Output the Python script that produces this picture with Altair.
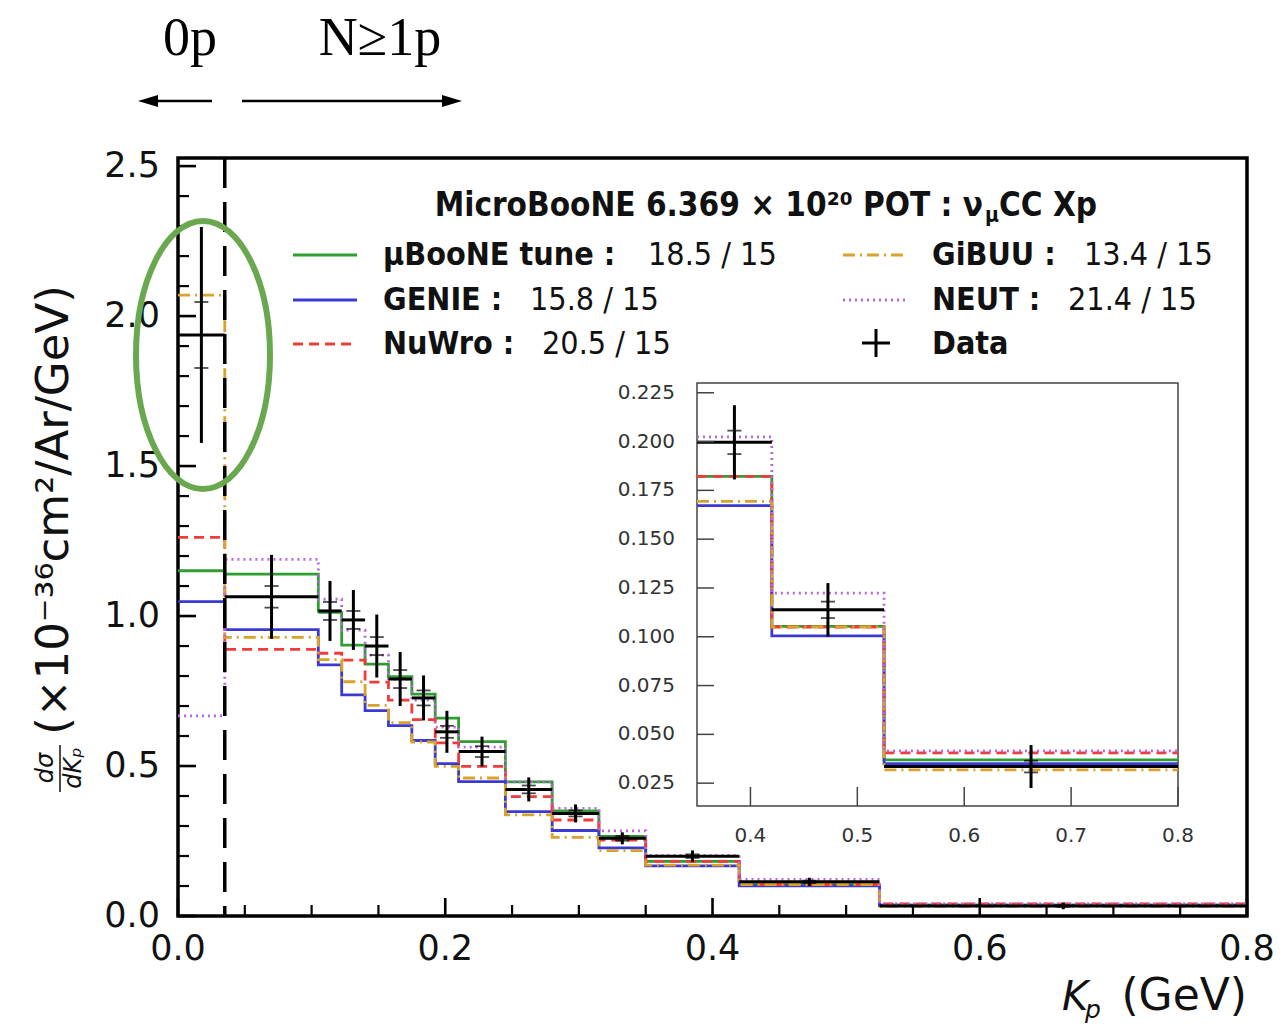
import altair as alt
import pandas as pd

# ---------------- data ----------------
edges = [0.0, 0.035, 0.105, 0.1225, 0.14, 0.1575, 0.175, 0.1925, 0.21,
         0.245, 0.28, 0.315, 0.35, 0.42, 0.525, 0.8]
models = ["µBooNE tune", "GENIE", "NuWro", "GiBUU", "NEUT"]
uboone = [1.151, 1.140, 1.012, 0.903, 0.840, 0.798, 0.740, 0.660, 0.581, 0.447, 0.350, 0.265, 0.1822, 0.1053, 0.0369]
genie = [1.048, 0.955, 0.837, 0.737, 0.685, 0.635, 0.585, 0.508, 0.448, 0.348, 0.285, 0.227, 0.1672, 0.1005, 0.0350]
nuwro = [1.262, 0.889, 0.876, 0.853, 0.780, 0.720, 0.655, 0.577, 0.499, 0.398, 0.320, 0.253, 0.1822, 0.1050, 0.0405]
gibuu = [2.070, 0.929, 0.855, 0.781, 0.702, 0.645, 0.580, 0.499, 0.460, 0.337, 0.262, 0.218, 0.1694, 0.1050, 0.0318]
neut = [0.667, 1.189, 1.056, 0.953, 0.870, 0.790, 0.720, 0.630, 0.563, 0.447, 0.359, 0.284, 0.2024, 0.1224, 0.0415]
series = [uboone, genie, nuwro, gibuu, neut]

data_val = [1.937, 1.064, 1.017, 0.987, 0.900, 0.790, 0.727, 0.614, 0.548, 0.422, 0.342, 0.259, 0.1996, 0.1138, 0.0335]
data_err = [0.360, 0.140, 0.100, 0.100, 0.105, 0.090, 0.075, 0.070, 0.050, 0.040, 0.030, 0.020, 0.0190, 0.0137, 0.0110]
data_stat = [0.110, 0.036, 0.030, 0.030, 0.030, 0.030, 0.025, 0.020, 0.018, 0.013, 0.010, 0.008, 0.0060, 0.0042, 0.0030]

chi2 = ["18.5 / 15", "15.8 / 15", "20.5 / 15", "13.4 / 15", "21.4 / 15"]
legend_labels = ["µBooNE tune :", "GENIE :", "NuWro :", "GiBUU :", "NEUT :"]

main_xticks = [0.0, 0.2, 0.4, 0.6, 0.8]
main_xminor = [0.05, 0.1, 0.15, 0.25, 0.3, 0.35, 0.45, 0.5, 0.55, 0.65, 0.7, 0.75]
main_yticks = [0.0, 0.5, 1.0, 1.5, 2.0, 2.5]
main_yminor = [0.1, 0.2, 0.3, 0.4, 0.6, 0.7, 0.8, 0.9, 1.1, 1.2, 1.3, 1.4,
               1.6, 1.7, 1.8, 1.9, 2.1, 2.2, 2.3, 2.4]
inset_xticks = [0.4, 0.5, 0.6, 0.7, 0.8]
inset_yticks = [0.025, 0.05, 0.075, 0.1, 0.125, 0.15, 0.175, 0.2, 0.225]

colors = ["#2e9e33", "#3a3ad2", "#f23a3a", "#d9a22c", "#b868dc"]
dashes = [[1, 0], [1, 0], [10, 6], [12, 5, 2, 5], [2, 4]]

# ---------------- layout ----------------
W, H = 1069, 758
PADL, PADT = 178, 158
PADR, PADB = 1281 - PADL - W, 1025 - PADT - H
FONT = "DejaVu Sans"
LFONT = "DejaVu Sans Condensed, DejaVu Sans"
SERIF = "Liberation Serif"

MX = alt.Scale(domain=[0.0, 0.8], nice=False, zero=False)
MY = alt.Scale(domain=[0.0, 2.527], nice=False, zero=False)
IX = alt.Scale(domain=[0.35, 0.8], range=[519, 1000], nice=False, zero=False)
IY = alt.Scale(domain=[0.0133, 0.2300], range=[648, 225], nice=False, zero=False)
CS = alt.Scale(domain=models, range=colors)
DS = alt.Scale(domain=models, range=dashes)

# ---------------- tables ----------------
rows = []
for m, vals in zip(models, series):
    for i, v in enumerate(vals):
        rows.append({"model": m, "x": edges[i], "y": v, "k": i})
    rows.append({"model": m, "x": edges[-1], "y": vals[-1], "k": len(vals)})
steps = pd.DataFrame(rows)
steps_in = steps[steps["x"] >= 0.35]

dd = pd.DataFrame({"lo": edges[:-1], "hi": edges[1:], "val": data_val,
                   "err": data_err, "stat": data_stat})
dd["c"] = (dd["lo"] + dd["hi"]) / 2
dd["elo"] = dd["val"] - dd["err"]
dd["ehi"] = dd["val"] + dd["err"]
stat_df = pd.DataFrame({"c": list(dd["c"]) * 2,
                        "s": list(dd["val"] - dd["stat"]) + list(dd["val"] + dd["stat"])})
dd_in = dd[dd["lo"] >= 0.35]
stat_in = stat_df[stat_df["c"] >= 0.35]
one = pd.DataFrame({"a": [0]})


def X(f, s):
    return alt.X(f, type="quantitative", scale=s, axis=None)


def Y(f, s):
    return alt.Y(f, type="quantitative", scale=s, axis=None)


# ---------------- main panel ----------------
step_main = alt.Chart(steps).mark_line(interpolate="step-after", strokeWidth=2.8, clip=True).encode(
    x=X("x", MX), y=Y("y", MY),
    color=alt.Color("model:N", scale=CS, legend=None),
    strokeDash=alt.StrokeDash("model:N", scale=DS, legend=None),
    order="k:Q")

vline = alt.Chart(pd.DataFrame({"x": [edges[1]]})).mark_rule(
    color="black", strokeWidth=3.5, strokeDash=[30, 14]).encode(
    x=X("x", MX), y=alt.value(0), y2=alt.value(H))

cross = alt.Chart(dd).mark_rule(color="black", strokeWidth=3).encode(
    x=X("lo", MX), x2="hi:Q", y=Y("val", MY))
ebar = alt.Chart(dd).mark_rule(color="black", strokeWidth=3).encode(
    x=X("c", MX), y=Y("elo", MY), y2="ehi:Q")
sticks = alt.Chart(stat_df).mark_tick(orient="horizontal", color="black", size=14, thickness=1.8).encode(
    x=X("c", MX), y=Y("s", MY))

ymaj = alt.Chart(pd.DataFrame({"v": main_yticks})).mark_rule(color="black", strokeWidth=2.6).encode(
    y=Y("v", MY), x=alt.value(0), x2=alt.value(18))
ymin = alt.Chart(pd.DataFrame({"v": main_yminor})).mark_rule(color="black", strokeWidth=2.2).encode(
    y=Y("v", MY), x=alt.value(0), x2=alt.value(11))
xmaj = alt.Chart(pd.DataFrame({"v": main_xticks})).mark_rule(color="black", strokeWidth=2.6).encode(
    x=X("v", MX), y=alt.value(H), y2=alt.value(H - 18))
xmin = alt.Chart(pd.DataFrame({"v": main_xminor})).mark_rule(color="black", strokeWidth=2.2).encode(
    x=X("v", MX), y=alt.value(H), y2=alt.value(H - 11))
xlab = alt.Chart(pd.DataFrame({"v": main_xticks})).mark_text(
    align="center", baseline="middle", font=FONT, fontSize=35, color="#111").encode(
    x=X("v", MX), y=alt.value(H + 33), text=alt.Text("v:Q", format=".1f"))
ylab = alt.Chart(pd.DataFrame({"v": main_yticks})).mark_text(
    align="right", baseline="middle", font=FONT, fontSize=35, color="#111").encode(
    y=Y("v", MY), x=alt.value(-18), text=alt.Text("v:Q", format=".1f"))

main = alt.layer(step_main, vline, cross, ebar, sticks, ymaj, ymin, xmaj, xmin, xlab, ylab)

# ---------------- inset ----------------
ibg = alt.Chart(one).mark_rect(fill="white", stroke="#444", strokeWidth=1.5).encode(
    x=alt.value(519), x2=alt.value(1000), y=alt.value(225), y2=alt.value(648))
istep = alt.Chart(steps_in).mark_line(interpolate="step-after", strokeWidth=2.8).encode(
    x=X("x", IX), y=Y("y", IY),
    color=alt.Color("model:N", scale=CS, legend=None),
    strokeDash=alt.StrokeDash("model:N", scale=DS, legend=None),
    order="k:Q")
icross = alt.Chart(dd_in).mark_rule(color="black", strokeWidth=3).encode(
    x=X("lo", IX), x2="hi:Q", y=Y("val", IY))
iebar = alt.Chart(dd_in).mark_rule(color="black", strokeWidth=3).encode(
    x=X("c", IX), y=Y("elo", IY), y2="ehi:Q")
isticks = alt.Chart(stat_in).mark_tick(orient="horizontal", color="black", size=14, thickness=1.8).encode(
    x=X("c", IX), y=Y("s", IY))
iyt = alt.Chart(pd.DataFrame({"v": inset_yticks})).mark_rule(color="#444", strokeWidth=1.5).encode(
    y=Y("v", IY), x=alt.value(519), x2=alt.value(536))
ixt = alt.Chart(pd.DataFrame({"v": inset_xticks})).mark_rule(color="#444", strokeWidth=1.5).encode(
    x=X("v", IX), y=alt.value(648), y2=alt.value(629))
iyl = alt.Chart(pd.DataFrame({"v": inset_yticks})).mark_text(
    align="right", baseline="middle", font=FONT, fontSize=20, color="#333").encode(
    y=Y("v", IY), x=alt.value(497), text=alt.Text("v:Q", format=".3f"))
ixl = alt.Chart(pd.DataFrame({"v": inset_xticks})).mark_text(
    align="center", baseline="middle", font=FONT, fontSize=20, color="#333").encode(
    x=X("v", IX), y=alt.value(678), text=alt.Text("v:Q", format=".1f"))

inset = alt.layer(ibg, istep, icross, iebar, isticks, iyt, ixt, iyl, ixl)

# ---------------- annotations (pixel positions relative to plot area) ----------------
PX = lambda f: alt.X(f, type="quantitative", scale=None, axis=None)
PY = lambda f: alt.Y(f, type="quantitative", scale=None, axis=None)


def texts(items, **mk):
    df = pd.DataFrame(items, columns=["t", "px", "py"])
    return alt.Chart(df).mark_text(**mk).encode(x=PX("px"), y=PY("py"), text="t:N")


leg_rows_y = [97, 142, 186, 97, 142]
leg_line_x = [115, 115, 115, 665, 665]
leg_lab_x = [205, 205, 205, 754, 754]
leg_val_x = [470, 352, 364, 906, 890]

leg_lines = alt.Chart(pd.DataFrame({
    "model": models, "x1": leg_line_x, "x2": [v + 64 for v in leg_line_x], "y": leg_rows_y})
).mark_rule(strokeWidth=2.8).encode(
    x=PX("x1"), x2="x2:Q", y=PY("y"),
    color=alt.Color("model:N", scale=CS, legend=None),
    strokeDash=alt.StrokeDash("model:N", scale=DS, legend=None))

leg_labels = texts(list(zip(legend_labels + ["Data"], leg_lab_x + [754], leg_rows_y + [186])),
                   align="left", baseline="middle", font=LFONT, fontSize=32, fontWeight="bold", color="#111")
leg_vals = texts(list(zip(chi2, leg_val_x, leg_rows_y)),
                 align="left", baseline="middle", font=LFONT, fontSize=32, color="#111")
leg_title_a = texts([("MicroBooNE 6.369 × 10²⁰ POT  :  ν", 805, 48)],
                    align="right", baseline="middle", font=LFONT, fontSize=33, fontWeight="bold", color="#111")
leg_title_mu = texts([("μ", 807, 58)],
                     align="left", baseline="middle", font=LFONT, fontSize=21, fontWeight="bold", color="#111")
leg_title_b = texts([("CC Xp", 821, 48)],
                    align="left", baseline="middle", font=LFONT, fontSize=33, fontWeight="bold", color="#111")
plus_h = alt.Chart(one).mark_rule(color="black", strokeWidth=3).encode(
    x=alt.value(684), x2=alt.value(712), y=alt.value(185))
plus_v = alt.Chart(one).mark_rule(color="black", strokeWidth=3).encode(
    x=alt.value(698), y=alt.value(171), y2=alt.value(199))

top_txt = texts([("0p", 12, -103), ("N≥1p", 202, -103)],
                align="center", baseline="alphabetic", font=SERIF, fontSize=54, color="black")
arrow_l = alt.Chart(one).mark_rule(color="black", strokeWidth=2.5).encode(
    x=alt.value(34), x2=alt.value(-28), y=alt.value(-57))
arrow_r = alt.Chart(one).mark_rule(color="black", strokeWidth=2.5).encode(
    x=alt.value(64), x2=alt.value(272), y=alt.value(-57))
head_l = alt.Chart(one).mark_point(shape="M 0,0 L 2,-0.6 L 2,0.6 Z", size=400, filled=True,
                                   color="black", opacity=1, strokeWidth=0).encode(
    x=alt.value(-40), y=alt.value(-57))
head_r = alt.Chart(one).mark_point(shape="M 0,0 L -2,-0.6 L -2,0.6 Z", size=400, filled=True,
                                   color="black", opacity=1, strokeWidth=0).encode(
    x=alt.value(284), y=alt.value(-57))

ellipse = alt.Chart(one).mark_point(shape="M -0.5,0 A 0.5,1 0 1,0 0.5,0 A 0.5,1 0 1,0 -0.5,0 Z",
                                    size=71824, filled=False, color="#6aa84f", strokeWidth=6,
                                    opacity=1).encode(x=alt.value(25), y=alt.value(197))

ytitle = texts([("(×10⁻³⁶cm²/Ar/GeV)", -124, 352)], align="center", baseline="middle",
               angle=270, font=FONT, fontSize=45, color="#111")
yfrac = texts([("dσ", -132, 610), ("dKₚ", -104, 610)], align="center", baseline="middle",
              angle=270, font=FONT, fontSize=24, fontStyle="italic", color="#111")
ybar = alt.Chart(one).mark_rule(color="#111", strokeWidth=1.5).encode(
    x=alt.value(-118), y=alt.value(587), y2=alt.value(634))

xt_k = texts([("K", 884, 852)], align="left", baseline="alphabetic", font=FONT, fontSize=40,
             fontStyle="italic", color="#111")
xt_p = texts([("p", 907, 860)], align="left", baseline="alphabetic", font=FONT, fontSize=25,
             fontStyle="italic", color="#111")
xt_g = texts([("(GeV)", 1069, 852)], align="right", baseline="alphabetic", font=FONT, fontSize=44,
             color="#111")

annot = alt.layer(leg_lines, leg_labels, leg_vals, leg_title_a, leg_title_mu, leg_title_b,
                  plus_h, plus_v, top_txt, arrow_l, arrow_r, head_l, head_r, ellipse,
                  ytitle, yfrac, ybar, xt_k, xt_p, xt_g)

chart = alt.layer(main, inset, annot).resolve_scale(
    x="independent", y="independent"
).properties(
    width=W, height=H,
    padding={"left": PADL, "top": PADT, "right": PADR, "bottom": PADB},
    autosize=alt.AutoSizeParams(type="none"),
    background="white",
).configure_view(stroke="black", strokeWidth=3.5)

chart.save("out.html", embed_options={"renderer": "svg", "actions": False})
